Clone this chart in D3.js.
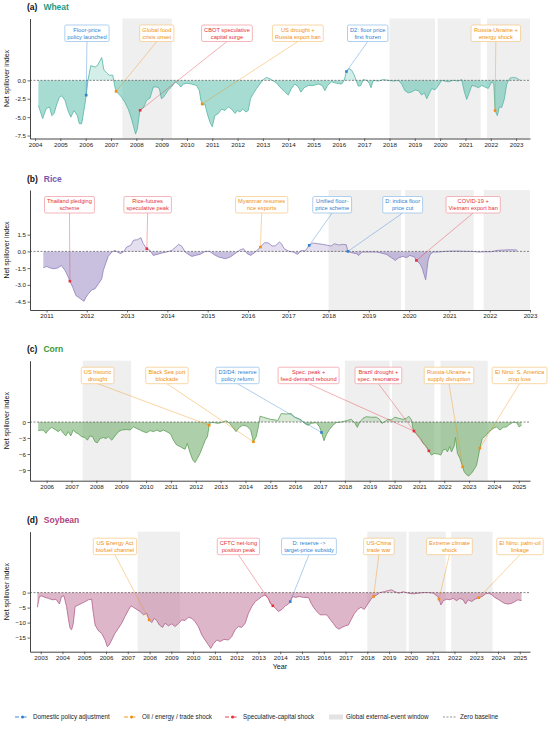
<!DOCTYPE html>
<html>
<head>
<meta charset="utf-8">
<script src="https://cdn.jsdelivr.net/npm/d3@7"></script>
<style>
  body { margin: 0; background: #fff; }
  svg { font-family: "Liberation Sans", Arial, sans-serif; }
</style>
</head>
<body>
<svg id="chart" width="550" height="733"></svg>
<script>
// ---- data ------------------------------------------------------------
// [decimal year, net spillover index]
const wheat = [[2004.13,-3.4],[2004.3,-5.2],[2004.43,-3.9],[2004.57,-3.6],[2004.66,-4.8],[2004.75,-4.5],[2004.86,-3.2],[2004.96,-2.3],[2005.05,-2.1],[2005.18,-2.7],[2005.3,-4.1],[2005.41,-5.0],[2005.54,-4.1],[2005.67,-4.8],[2005.75,-5.9],[2005.84,-5.9],[2005.93,-4.1],[2006.01,-2.3],[2006.09,0],[2006.2,2.0],[2006.37,1.8],[2006.46,2.0],[2006.57,2.7],[2006.63,3.1],[2006.72,1.4],[2006.83,1.0],[2006.93,0.7],[2007.07,0.7],[2007.14,-0.7],[2007.2,-1.5],[2007.29,-1.8],[2007.42,-2.3],[2007.55,-3.0],[2007.68,-3.9],[2007.79,-5.0],[2007.88,-6.1],[2007.97,-7.3],[2008.04,-6.6],[2008.14,-4.1],[2008.28,-3.7],[2008.41,-2.7],[2008.54,-2.4],[2008.67,-0.9],[2008.8,-0.9],[2008.91,-1.1],[2008.99,-2.5],[2009.07,-2.3],[2009.17,-1.8],[2009.26,-1.3],[2009.39,-0.9],[2009.53,-0.2],[2009.66,-0.5],[2009.76,-0.9],[2009.86,-0.5],[2009.99,-0.4],[2010.18,-0.5],[2010.38,-0.7],[2010.49,-1.4],[2010.55,-2.7],[2010.62,-3.4],[2010.71,-3.2],[2010.8,-4.5],[2010.91,-5.7],[2011.0,-6.3],[2011.1,-4.8],[2011.24,-4.5],[2011.37,-3.9],[2011.5,-4.1],[2011.63,-3.6],[2011.76,-3.9],[2011.9,-4.5],[2011.99,-4.1],[2012.09,-4.3],[2012.2,-3.9],[2012.33,-4.3],[2012.42,-4.1],[2012.51,-2.5],[2012.62,-1.8],[2012.75,-1.1],[2012.88,-0.5],[2013.01,0.1],[2013.14,0.4],[2013.28,0.2],[2013.41,-0.1],[2013.52,-0.3],[2013.67,-0.9],[2013.87,-1.6],[2014.0,-2.0],[2014.13,-1.1],[2014.26,-0.5],[2014.4,-0.9],[2014.5,-1.6],[2014.63,-1.0],[2014.79,-0.7],[2014.99,-0.7],[2015.19,-0.5],[2015.34,-0.7],[2015.45,-1.4],[2015.55,-0.7],[2015.71,-0.2],[2015.91,-0.4],[2016.11,-0.5],[2016.21,0],[2016.3,1.2],[2016.4,1.6],[2016.5,1.4],[2016.61,0.7],[2016.7,-0.2],[2016.77,-0.8],[2016.87,-0.7],[2016.96,0.1],[2017.1,0],[2017.2,-0.4],[2017.27,-1.0],[2017.36,0],[2017.56,-0.1],[2017.75,0.1],[2017.95,0],[2018.15,-0.1],[2018.35,0],[2018.48,-0.5],[2018.61,-1.4],[2018.74,-1.7],[2018.87,-1.6],[2019.01,-1.3],[2019.14,-1.4],[2019.27,-2.0],[2019.38,-1.7],[2019.47,-2.5],[2019.57,-1.8],[2019.67,-1.1],[2019.8,-1.3],[2019.93,-0.7],[2020.06,0],[2020.19,-0.1],[2020.32,-0.2],[2020.52,0],[2020.72,-0.1],[2020.85,0.1],[2020.96,-1.6],[2021.05,-2.6],[2021.14,-1.8],[2021.25,-0.7],[2021.38,-0.8],[2021.51,-1.0],[2021.64,-0.7],[2021.77,-0.9],[2021.9,-1.1],[2022.04,-0.2],[2022.12,-0.5],[2022.17,-4.1],[2022.26,-4.8],[2022.34,-3.6],[2022.43,-3.7],[2022.54,-2.5],[2022.63,-0.5],[2022.76,0.3],[2022.89,0.4],[2023.03,0.3],[2023.16,0]]

const rice = [[2010.92,-1.47],[2011.0,-1.35],[2011.08,-1.47],[2011.18,-1.56],[2011.29,-1.47],[2011.37,-1.26],[2011.46,-1.71],[2011.54,-2.3],[2011.58,-2.67],[2011.65,-3.2],[2011.73,-3.96],[2011.79,-4.1],[2011.85,-4.26],[2011.93,-4.47],[2011.98,-4.1],[2012.04,-3.8],[2012.12,-3.45],[2012.2,-3.36],[2012.29,-2.9],[2012.37,-2.46],[2012.41,-1.7],[2012.48,-0.96],[2012.53,-0.45],[2012.62,-0.06],[2012.7,0.09],[2012.76,-0.06],[2012.84,-0.2],[2012.92,0],[2012.99,0.39],[2013.09,0.54],[2013.16,1.0],[2013.26,1.05],[2013.34,1.23],[2013.4,0.69],[2013.49,0.24],[2013.57,0.09],[2013.65,-0.36],[2013.74,-0.27],[2013.86,-0.15],[2013.98,-0.06],[2014.11,0.09],[2014.19,0.33],[2014.28,0.63],[2014.36,0.45],[2014.44,-0.06],[2014.52,-0.27],[2014.61,-0.45],[2014.69,-0.36],[2014.81,-0.27],[2014.94,0],[2015.05,0],[2015.15,-0.27],[2015.27,-0.5],[2015.44,-0.66],[2015.56,-0.5],[2015.68,-0.2],[2015.81,0.15],[2015.89,0.24],[2015.98,-0.2],[2016.07,-0.36],[2016.18,-0.06],[2016.31,0.39],[2016.41,0.78],[2016.51,0.75],[2016.6,0.48],[2016.68,0.5],[2016.78,0.84],[2016.83,0.69],[2016.9,0.24],[2017.02,0],[2017.13,-0.06],[2017.23,-0.27],[2017.32,0.09],[2017.42,0.03],[2017.52,0.54],[2017.61,0.75],[2017.73,0.69],[2017.86,0.63],[2017.98,0.54],[2018.06,0.48],[2018.15,0.69],[2018.25,0.57],[2018.35,0.63],[2018.44,0.6],[2018.48,0],[2018.58,-0.12],[2018.69,-0.2],[2018.75,-0.36],[2018.83,-0.06],[2018.94,-0.06],[2019.06,-0.06],[2019.19,-0.06],[2019.31,-0.15],[2019.44,-0.27],[2019.56,-0.57],[2019.66,-0.81],[2019.74,-0.57],[2019.85,-0.45],[2019.93,-0.57],[2020.02,-0.36],[2020.13,-0.5],[2020.18,-0.81],[2020.27,-1.11],[2020.33,-1.56],[2020.37,-2.07],[2020.41,-2.55],[2020.44,-1.7],[2020.47,-0.81],[2020.52,-0.27],[2020.6,-0.06],[2020.72,-0.06],[2020.89,0],[2021.06,0.03],[2021.22,0.03],[2021.39,0],[2021.56,0],[2021.73,-0.06],[2021.89,-0.03],[2022.05,-0.03],[2022.18,0.09],[2022.35,0.12],[2022.51,0.15],[2022.68,0.12]]

const corn = [[2005.66,-1.6],[2005.8,-1.5],[2005.89,-1.6],[2005.97,-2.1],[2006.07,-1.5],[2006.2,-1.0],[2006.34,-1.4],[2006.47,-1.8],[2006.56,-1.4],[2006.67,-2.1],[2006.77,-2.6],[2006.87,-1.8],[2006.97,-2.6],[2007.07,-1.5],[2007.18,-2.0],[2007.28,-2.25],[2007.41,-2.75],[2007.54,-2.9],[2007.64,-3.4],[2007.74,-2.6],[2007.85,-2.75],[2007.95,-3.7],[2008.04,-3.9],[2008.15,-3.1],[2008.28,-2.9],[2008.39,-3.1],[2008.48,-2.75],[2008.62,-3.4],[2008.75,-2.6],[2008.89,-1.8],[2009.02,-1.5],[2009.22,-1.4],[2009.36,-1.5],[2009.49,-0.9],[2009.62,-1.2],[2009.76,-1.5],[2009.89,-1.8],[2010.03,-2.0],[2010.16,-1.6],[2010.3,-1.8],[2010.43,-1.5],[2010.56,-1.8],[2010.7,-1.5],[2010.83,-1.8],[2010.99,-2.25],[2011.1,-3.4],[2011.23,-4.3],[2011.37,-4.6],[2011.48,-4.9],[2011.57,-5.1],[2011.66,-4.0],[2011.77,-5.75],[2011.88,-7.1],[2011.97,-7.6],[2012.07,-6.8],[2012.17,-5.9],[2012.28,-4.6],[2012.38,-3.4],[2012.47,-2.75],[2012.54,-0.6],[2012.6,-0.1],[2012.71,-0.1],[2012.91,-0.25],[2013.09,0],[2013.22,0.25],[2013.36,-0.25],[2013.49,-1.0],[2013.62,-1.8],[2013.76,-1.0],[2013.89,-0.6],[2014.05,-0.75],[2014.21,-1.5],[2014.32,-3.7],[2014.43,-2.75],[2014.52,-0.9],[2014.59,1.1],[2014.72,0.9],[2014.86,0.7],[2015.02,0.5],[2015.19,0.4],[2015.3,0.25],[2015.44,1.6],[2015.64,1.5],[2015.84,1.6],[2015.97,0.9],[2016.11,0.7],[2016.24,0.4],[2016.38,-0.25],[2016.51,-0.6],[2016.65,-0.25],[2016.85,-0.1],[2016.98,-0.9],[2017.05,-1.8],[2017.16,-3.5],[2017.25,-2.4],[2017.38,-1.4],[2017.52,-0.6],[2017.65,-0.1],[2017.85,0],[2018.06,0.25],[2018.26,0.5],[2018.39,-0.1],[2018.5,-1.0],[2018.59,-0.1],[2018.73,0.7],[2018.86,1.0],[2019.06,0.9],[2019.27,0.9],[2019.4,0.5],[2019.49,-0.25],[2019.6,0.06],[2019.74,0.5],[2019.87,0.4],[2020.01,0.9],[2020.17,0.7],[2020.34,0.5],[2020.48,0.7],[2020.57,1.1],[2020.68,0.4],[2020.74,-1.2],[2020.78,-1.7],[2020.92,-2.4],[2021.05,-3.1],[2021.15,-4.0],[2021.24,-4.3],[2021.38,-5.4],[2021.48,-6.2],[2021.59,-5.9],[2021.75,-6.0],[2021.86,-6.2],[2021.95,-5.25],[2022.05,-5.1],[2022.13,-5.6],[2022.22,-4.6],[2022.29,-5.6],[2022.4,-4.5],[2022.45,-2.9],[2022.53,-5.9],[2022.63,-6.8],[2022.72,-8.1],[2022.8,-9.3],[2022.9,-9.9],[2022.99,-10.1],[2023.1,-9.6],[2023.2,-8.9],[2023.3,-8.1],[2023.37,-6.5],[2023.43,-4.9],[2023.53,-3.1],[2023.66,-2.6],[2023.8,-1.8],[2023.97,-1.2],[2024.1,-0.9],[2024.24,-1.5],[2024.37,-1.0],[2024.51,-0.9],[2024.64,-0.4],[2024.78,0],[2024.91,-0.1],[2025.01,-0.9],[2025.11,-0.6]]

const soybean = [[2002.85,-4.9],[2002.94,-1.3],[2003.05,-1.1],[2003.2,-1.6],[2003.35,-1.9],[2003.46,-2.2],[2003.58,-2.4],[2003.7,-2.2],[2003.86,-3.8],[2003.96,-1.3],[2004.07,-1.1],[2004.19,-4.7],[2004.27,-8.6],[2004.35,-11.9],[2004.42,-12.4],[2004.5,-10.2],[2004.58,-4.7],[2004.73,-4.1],[2004.88,-3.6],[2005.04,-3.0],[2005.19,-2.4],[2005.34,-2.2],[2005.42,-6.9],[2005.5,-10.8],[2005.65,-12.7],[2005.8,-13.6],[2005.96,-15.8],[2006.06,-18.0],[2006.15,-17.4],[2006.26,-15.8],[2006.41,-13.6],[2006.57,-11.9],[2006.72,-10.2],[2006.87,-8.0],[2007.03,-5.8],[2007.15,-4.4],[2007.26,-4.9],[2007.41,-5.6],[2007.56,-6.3],[2007.72,-7.4],[2007.87,-6.9],[2007.98,-9.1],[2008.1,-10.0],[2008.21,-8.6],[2008.33,-9.3],[2008.45,-10.8],[2008.6,-11.6],[2008.71,-10.2],[2008.87,-11.1],[2009.02,-10.4],[2009.17,-11.3],[2009.32,-10.4],[2009.48,-9.1],[2009.63,-9.3],[2009.78,-8.2],[2009.94,-8.6],[2010.09,-9.7],[2010.24,-11.3],[2010.4,-14.1],[2010.55,-15.8],[2010.7,-17.4],[2010.81,-18.6],[2010.93,-17.1],[2011.09,-15.8],[2011.24,-16.3],[2011.42,-15.6],[2011.62,-15.8],[2011.77,-14.7],[2011.93,-12.4],[2012.08,-11.3],[2012.23,-11.6],[2012.39,-10.2],[2012.54,-6.9],[2012.69,-4.7],[2012.85,-3.0],[2013.0,-2.2],[2013.15,-1.3],[2013.31,-0.8],[2013.46,-1.9],[2013.54,-3.6],[2013.66,-4.4],[2013.77,-5.2],[2013.92,-6.3],[2014.08,-5.6],[2014.23,-4.4],[2014.38,-3.8],[2014.46,-3.0],[2014.57,-1.3],[2014.72,-1.6],[2014.87,-1.3],[2015.07,-1.6],[2015.3,-1.6],[2015.42,-3.6],[2015.53,-4.9],[2015.68,-6.3],[2015.83,-7.4],[2015.99,-7.4],[2016.14,-7.4],[2016.29,-8.9],[2016.45,-10.4],[2016.57,-11.6],[2016.7,-12.2],[2016.83,-11.6],[2016.98,-11.1],[2017.13,-10.8],[2017.25,-9.1],[2017.41,-6.9],[2017.56,-5.6],[2017.71,-4.9],[2017.86,-5.6],[2018.02,-3.8],[2018.17,-2.2],[2018.29,-1.3],[2018.43,-0.8],[2018.58,0],[2018.78,0.3],[2018.97,0.7],[2019.12,0.9],[2019.27,0.3],[2019.45,-0.2],[2019.65,0.3],[2019.88,-0.2],[2020.11,-0.4],[2020.34,-0.2],[2020.57,0],[2020.8,0],[2021.03,-0.2],[2021.23,-1.3],[2021.29,-2.2],[2021.38,-4.1],[2021.49,-2.7],[2021.64,-2.2],[2021.79,-2.4],[2021.94,-1.9],[2022.1,-2.7],[2022.25,-1.9],[2022.4,-2.4],[2022.51,-3.8],[2022.63,-2.4],[2022.79,-3.0],[2022.94,-2.2],[2023.12,-1.7],[2023.27,-1.3],[2023.43,-0.4],[2023.58,-0.2],[2023.73,-0.8],[2023.85,-1.6],[2024.0,-2.2],[2024.16,-3.0],[2024.31,-3.6],[2024.47,-3.8],[2024.62,-3.6],[2024.77,-3.0],[2024.92,-2.4],[2025.08,-2.7]]

// global external-event windows [start, end]
const windows = [[2007.45, 2009.4], [2018.0, 2019.8], [2019.9, 2021.6], [2021.85, 2023.75]]

// events: [date, type, line 1, line 2]
const wheatEvents = [
  [2006.02, 'policy', 'Floor-price', 'policy launched'],
  [2007.2, 'shock', 'Global food', 'crisis onset'],
  [2008.15, 'spec', 'CBOT speculative', 'capital surge'],
  [2010.6, 'shock', 'US drought +', 'Russia export ban'],
  [2016.3, 'policy', 'D2: floor price', 'first frozen'],
  [2022.17, 'shock', 'Russia-Ukraine +', 'energy shock']
]
const riceEvents = [
  [2011.58, 'spec', 'Thailand pledging', 'scheme'],
  [2013.49, 'spec', 'Rice-futures', 'speculative peak'],
  [2016.31, 'shock', 'Myanmar resumes', 'rice exports'],
  [2017.52, 'policy', 'Unified floor-', 'price scheme'],
  [2018.48, 'policy', 'D: indica floor', 'price cut'],
  [2020.18, 'spec', 'COVID-19 +', 'Vietnam export ban']
]
const cornEvents = [
  [2012.54, 'shock', 'US historic', 'drought'],
  [2014.32, 'shock', 'Black Sea port', 'blockade'],
  [2017.06, 'policy', 'D3/D4: reserve', 'policy reform'],
  [2020.78, 'spec', 'Spec. peak +', 'feed-demand rebound'],
  [2021.38, 'spec', 'Brazil drought +', 'spec. resonance'],
  [2022.74, 'shock', 'Russia-Ukraine +', 'supply disruption'],
  [2023.43, 'shock', 'El Nino: S. America', 'crop loss']
]
const soybeanEvents = [
  [2007.98, 'shock', 'US Energy Act', 'biofuel channel'],
  [2013.66, 'spec', 'CFTC net-long', 'position peak'],
  [2014.46, 'policy', 'D: reserve ->', 'target-price subsidy'],
  [2018.29, 'shock', 'US-China', 'trade war'],
  [2021.29, 'shock', 'Extreme climate', 'shock'],
  [2023.12, 'shock', 'El Nino: palm-oil', 'linkage']
]

// where each label box sits (centre, in years)
const wheatBoxAt = [2006.05, 2008.81, 2011.58, 2014.38, 2017.14, 2022.2]
const riceBoxAt = [2011.57, 2013.51, 2016.34, 2018.09, 2019.84, 2021.59]
const cornBoxAt = [2008.05, 2010.84, 2013.68, 2016.54, 2019.35, 2022.19, 2025.03]
const soybeanBoxAt = [2006.41, 2012.08, 2015.32, 2018.53, 2021.77, 2025.01]

// tick labels
const wheatYears = d3.range(2004, 2024)
const riceYears = d3.range(2011, 2024)
const cornYears = d3.range(2006, 2026)
const soybeanYears = d3.range(2003, 2026)
const wheatTicks = [-7.5, -5, -2.5, 0]
const riceTicks = [-4.5, -3, -1.5, 0, 1.5]
const cornTicks = [-9, -6, -3, 0]
const soybeanTicks = [-15, -10, -5, 0]

const legendItems = ['Domestic policy adjustment', 'Oil / energy / trade shock', 'Speculative-capital shock', 'Global external-event window', 'Zero baseline']

// ---- styles -----------------------------------------------------------
const typeColor = { policy: '#2f7fd1', shock: '#f0900e', spec: '#e5303c' }
const typeBorder = { policy: '#8dbbe8', shock: '#f5c580', spec: '#f0979e' }

const L = 30
const R = 530
const H = 120

const panels = [
  { tag: '(a)', name: 'Wheat', data: wheat, events: wheatEvents, boxAt: wheatBoxAt, top: 18.5,
    xDomain: [2003.8, 2023.55], yDomain: [-7.9, 8.4], years: wheatYears, ticks: wheatTicks, fmt: (d) => d.toFixed(1),
    line: '#55b5a5', fill: '#5fbfae', title: '#1c9c86' },
  { tag: '(b)', name: 'Rice', data: rice, events: riceEvents, boxAt: riceBoxAt, top: 190,
    xDomain: [2010.59, 2023.0], yDomain: [-5.25, 5.5], years: riceYears, ticks: riceTicks, fmt: (d) => d.toFixed(1),
    line: '#8f7dbb', fill: '#9d8dc6', title: '#7657b0' },
  { tag: '(c)', name: 'Corn', data: corn, events: cornEvents, boxAt: cornBoxAt, top: 360.7,
    xDomain: [2005.33, 2025.45], yDomain: [-11.0, 11.5], years: cornYears, ticks: cornTicks, fmt: d3.format('d'),
    line: '#5c9f57', fill: '#6aaa64', title: '#3a983a' },
  { tag: '(d)', name: 'Soybean', data: soybean, events: soybeanEvents, boxAt: soybeanBoxAt, top: 531.7,
    xDomain: [2002.51, 2025.47], yDomain: [-19.7, 20.3], years: soybeanYears, ticks: soybeanTicks, fmt: d3.format('d'),
    line: '#b35f8b', fill: '#c27a9f', title: '#b0447c' }
]

const svg = d3.select('#chart')
const defs = svg.append('defs')

// value of a series at a date (linear between readings)
function valueAt(series, t) {
  const i = d3.bisector((d) => d[0]).left(series, t)
  if (i <= 0) return series[0][1]
  if (i >= series.length) return series[series.length - 1][1]
  const a = series[i - 1]
  const b = series[i]
  return a[1] + ((b[1] - a[1]) * (t - a[0])) / (b[0] - a[0])
}

function drawPanel(p, idx) {
  const x = d3.scaleLinear().domain(p.xDomain).range([L, R])
  const y = d3.scaleLinear().domain(p.yDomain).range([p.top + H, p.top])
  const g = svg.append('g')
  const y0 = y(0)

  // event windows
  g.selectAll('rect.win')
    .data(windows.filter((w) => w[1] > p.xDomain[0] && w[0] < p.xDomain[1]))
    .join('rect')
    .attr('x', (w) => x(Math.max(w[0], p.xDomain[0])))
    .attr('width', (w) => x(Math.min(w[1], p.xDomain[1])) - x(Math.max(w[0], p.xDomain[0])))
    .attr('y', p.top)
    .attr('height', H)
    .attr('fill', '#efefef')

  // clip above / below zero so the two sides get different tints
  defs.append('clipPath').attr('id', 'pos' + idx)
    .append('rect').attr('x', L).attr('y', p.top).attr('width', R - L).attr('height', y0 - p.top)
  defs.append('clipPath').attr('id', 'neg' + idx)
    .append('rect').attr('x', L).attr('y', y0).attr('width', R - L).attr('height', p.top + H - y0)

  const area = d3.area().x((d) => x(d[0])).y0(y0).y1((d) => y(d[1]))
  g.append('path').datum(p.data).attr('d', area)
    .attr('fill', p.fill).attr('fill-opacity', 0.27).attr('clip-path', `url(#pos${idx})`)
  g.append('path').datum(p.data).attr('d', area)
    .attr('fill', p.fill).attr('fill-opacity', 0.55).attr('clip-path', `url(#neg${idx})`)

  g.append('path').datum(p.data)
    .attr('d', d3.line().x((d) => x(d[0])).y((d) => y(d[1])))
    .attr('fill', 'none').attr('stroke', p.line).attr('stroke-width', 0.8)

  // zero baseline
  g.append('line')
    .attr('x1', L).attr('x2', R).attr('y1', y0).attr('y2', y0)
    .attr('stroke', '#555').attr('stroke-width', 0.7).attr('stroke-dasharray', '2,1.5')

  // axes
  const xAxis = g.append('g').attr('transform', `translate(0,${p.top + H})`)
    .call(d3.axisBottom(x).tickValues(p.years).tickFormat(d3.format('d')).tickSize(2.5).tickSizeOuter(0).tickPadding(1.5))
  const yAxis = g.append('g').attr('transform', `translate(${L},0)`)
    .call(d3.axisLeft(y).tickValues(p.ticks).tickFormat(p.fmt).tickSize(2.5).tickSizeOuter(0).tickPadding(1.5))
  for (const a of [xAxis, yAxis]) {
    a.select('.domain').attr('stroke', '#444').attr('stroke-width', 1)
    a.selectAll('.tick line').attr('stroke', '#444').attr('stroke-width', 0.8)
    a.selectAll('.tick text').attr('font-size', 6.2).attr('fill', '#222').attr('font-family', null)
  }

  g.append('text')
    .attr('transform', `translate(9,${p.top + H / 2}) rotate(-90)`)
    .attr('text-anchor', 'middle').attr('font-size', 7).attr('fill', '#111')
    .text('Net spillover index')

  // title
  const t = g.append('text').attr('x', 27).attr('y', p.top - 8.5).attr('font-size', 8.5).attr('font-weight', 'bold')
  t.append('tspan').attr('fill', '#111').text(p.tag)
  t.append('tspan').attr('dx', 6).attr('fill', p.title).text(p.name)

  // annotations
  const boxTop = p.top + 6.5
  const boxH = 16.5
  p.events.forEach((e, i) => {
    const [date, type, l1, l2] = e
    const mx = x(date)
    const my = y(valueAt(p.data, date))
    const bx = x(p.boxAt[i])
    g.append('line')
      .attr('x1', bx).attr('y1', boxTop + boxH).attr('x2', mx).attr('y2', my)
      .attr('stroke', typeColor[type]).attr('stroke-opacity', 0.55).attr('stroke-width', 0.7)
    g.append('rect')
      .attr('x', mx - 1.3).attr('y', my - 1.3).attr('width', 2.6).attr('height', 2.6)
      .attr('fill', typeColor[type])

    const box = g.append('g')
    const rect = box.append('rect')
    const txt = box.append('text').attr('text-anchor', 'middle').attr('font-size', 5.7).attr('fill', typeColor[type])
    txt.append('tspan').attr('x', bx).attr('y', boxTop + 6.9).text(l1)
    txt.append('tspan').attr('x', bx).attr('y', boxTop + 13.6).text(l2)
    const w = txt.node().getBBox().width + 5
    rect.attr('x', bx - w / 2).attr('y', boxTop).attr('width', w).attr('height', boxH)
      .attr('rx', 1.5).attr('fill', '#fff').attr('stroke', typeBorder[type]).attr('stroke-width', 0.7)
  })

  if (idx === panels.length - 1) {
    g.append('text').attr('x', (L + R) / 2).attr('y', p.top + H + 17)
      .attr('text-anchor', 'middle').attr('font-size', 7.2).attr('fill', '#111').text('Year')
  }
}

panels.forEach(drawPanel)

// legend ------------------------------
const leg = svg.append('g').attr('transform', 'translate(0,717)').attr('font-size', 6.3).attr('fill', '#222')
const legX = [15, 124, 225, 329, 443]
const legColor = [typeColor.policy, typeColor.shock, typeColor.spec]
legendItems.forEach((label, i) => {
  const x0 = legX[i]
  if (i < 3) {
    leg.append('line').attr('x1', x0).attr('x2', x0 + 15).attr('y1', 0).attr('y2', 0)
      .attr('stroke', legColor[i]).attr('stroke-width', 0.9).attr('stroke-dasharray', '4,3.5')
    leg.append('circle').attr('cx', x0 + 7.5).attr('cy', 0).attr('r', 1.5).attr('fill', legColor[i])
  } else if (i === 3) {
    leg.append('rect').attr('x', x0).attr('y', -2.5).attr('width', 14).attr('height', 5).attr('fill', '#e3e3e3')
  } else {
    leg.append('line').attr('x1', x0).attr('x2', x0 + 14).attr('y1', 0).attr('y2', 0)
      .attr('stroke', '#666').attr('stroke-width', 0.7).attr('stroke-dasharray', '2,1.5')
  }
  leg.append('text').attr('x', x0 + (i < 3 ? 18 : 17)).attr('y', 2.2).text(label)
})
</script>
</body>
</html>
